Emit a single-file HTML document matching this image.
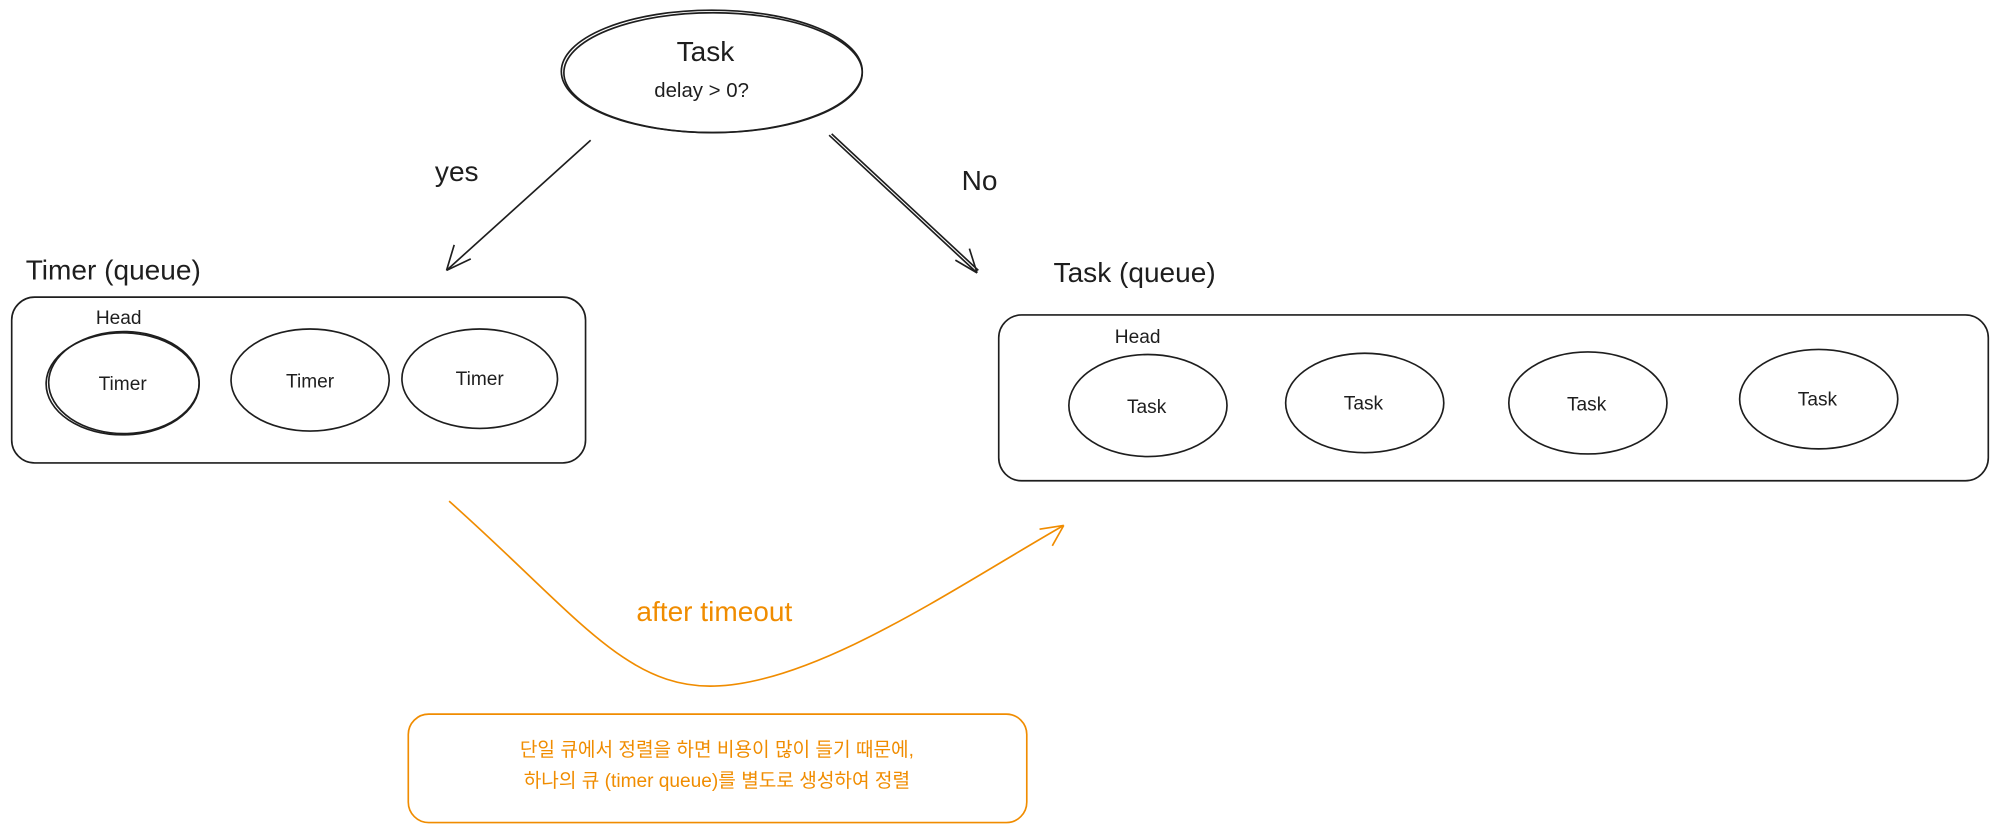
<!DOCTYPE html>
<html><head><meta charset="utf-8"><style>
html,body{margin:0;padding:0;background:#fff;}
svg{display:block;}
text{font-family:"Liberation Sans","Noto Sans CJK KR",sans-serif;}
</style></head><body>
<svg width="2000" height="834" viewBox="0 0 1568 654" xmlns="http://www.w3.org/2000/svg">
<g fill="none" stroke="#1e1e1e" stroke-width="1.3">
<ellipse cx="558" cy="56" rx="118" ry="48"/>
<ellipse cx="559" cy="57" rx="117" ry="47"/>
<path d="M463 110 L350 212"/>
<path d="M350 212 L356 192 M350 212 L369 203"/>
<path d="M650 106 L766 214 M652 105 L767 212"/>
<path d="M766 214 L749 204 M766 214 L760 195"/>
<rect x="9" y="233" width="450" height="130" rx="18"/>
<ellipse cx="96" cy="301" rx="60" ry="40"/>
<ellipse cx="97" cy="300" rx="59" ry="40"/>
<ellipse cx="243" cy="298" rx="62" ry="40"/>
<ellipse cx="376" cy="297" rx="61" ry="39"/>
<rect x="783" y="247" width="776" height="130" rx="18"/>
<ellipse cx="900" cy="318" rx="62" ry="40"/>
<ellipse cx="1070" cy="316" rx="62" ry="39"/>
<ellipse cx="1245" cy="316" rx="62" ry="40"/>
<ellipse cx="1426" cy="313" rx="62" ry="39"/>
</g>
<g fill="#1e1e1e">
<text x="553" y="48" font-size="22" text-anchor="middle">Task</text>
<text x="550" y="76" font-size="16" text-anchor="middle">delay &gt; 0?</text>
<text x="358" y="142" font-size="22" text-anchor="middle">yes</text>
<text x="768" y="149" font-size="22" text-anchor="middle">No</text>
<text x="20" y="219" font-size="22">Timer (queue)</text>
<text x="826" y="221" font-size="22">Task (queue)</text>
<text x="75" y="254" font-size="15">Head</text>
<text x="874" y="269" font-size="15">Head</text>
<text x="96" y="306" font-size="15" text-anchor="middle">Timer</text>
<text x="243" y="304" font-size="15" text-anchor="middle">Timer</text>
<text x="376" y="302" font-size="15" text-anchor="middle">Timer</text>
<text x="899" y="324" font-size="15" text-anchor="middle">Task</text>
<text x="1069" y="321" font-size="15" text-anchor="middle">Task</text>
<text x="1244" y="322" font-size="15" text-anchor="middle">Task</text>
<text x="1425" y="318" font-size="15" text-anchor="middle">Task</text>
</g>
<g fill="none" stroke="#f08c00" stroke-width="1.3">
<path d="M352 393 C450 480 490 540 560 538 C640 536 750 460 834 412"/>
<path d="M834 412 L815 415 M834 412 L825 428"/>
<rect x="320" y="560" width="485" height="85" rx="16"/>
</g>
<g fill="#f08c00">
<text x="560" y="487" font-size="22" text-anchor="middle">after timeout</text>
<text x="562" y="593" font-size="15" text-anchor="middle">단일 큐에서 정렬을 하면 비용이 많이 들기 때문에,</text>
<text x="562" y="617" font-size="15" text-anchor="middle">하나의 큐 (timer queue)를 별도로 생성하여 정렬</text>
</g>
</svg>
</body></html>
